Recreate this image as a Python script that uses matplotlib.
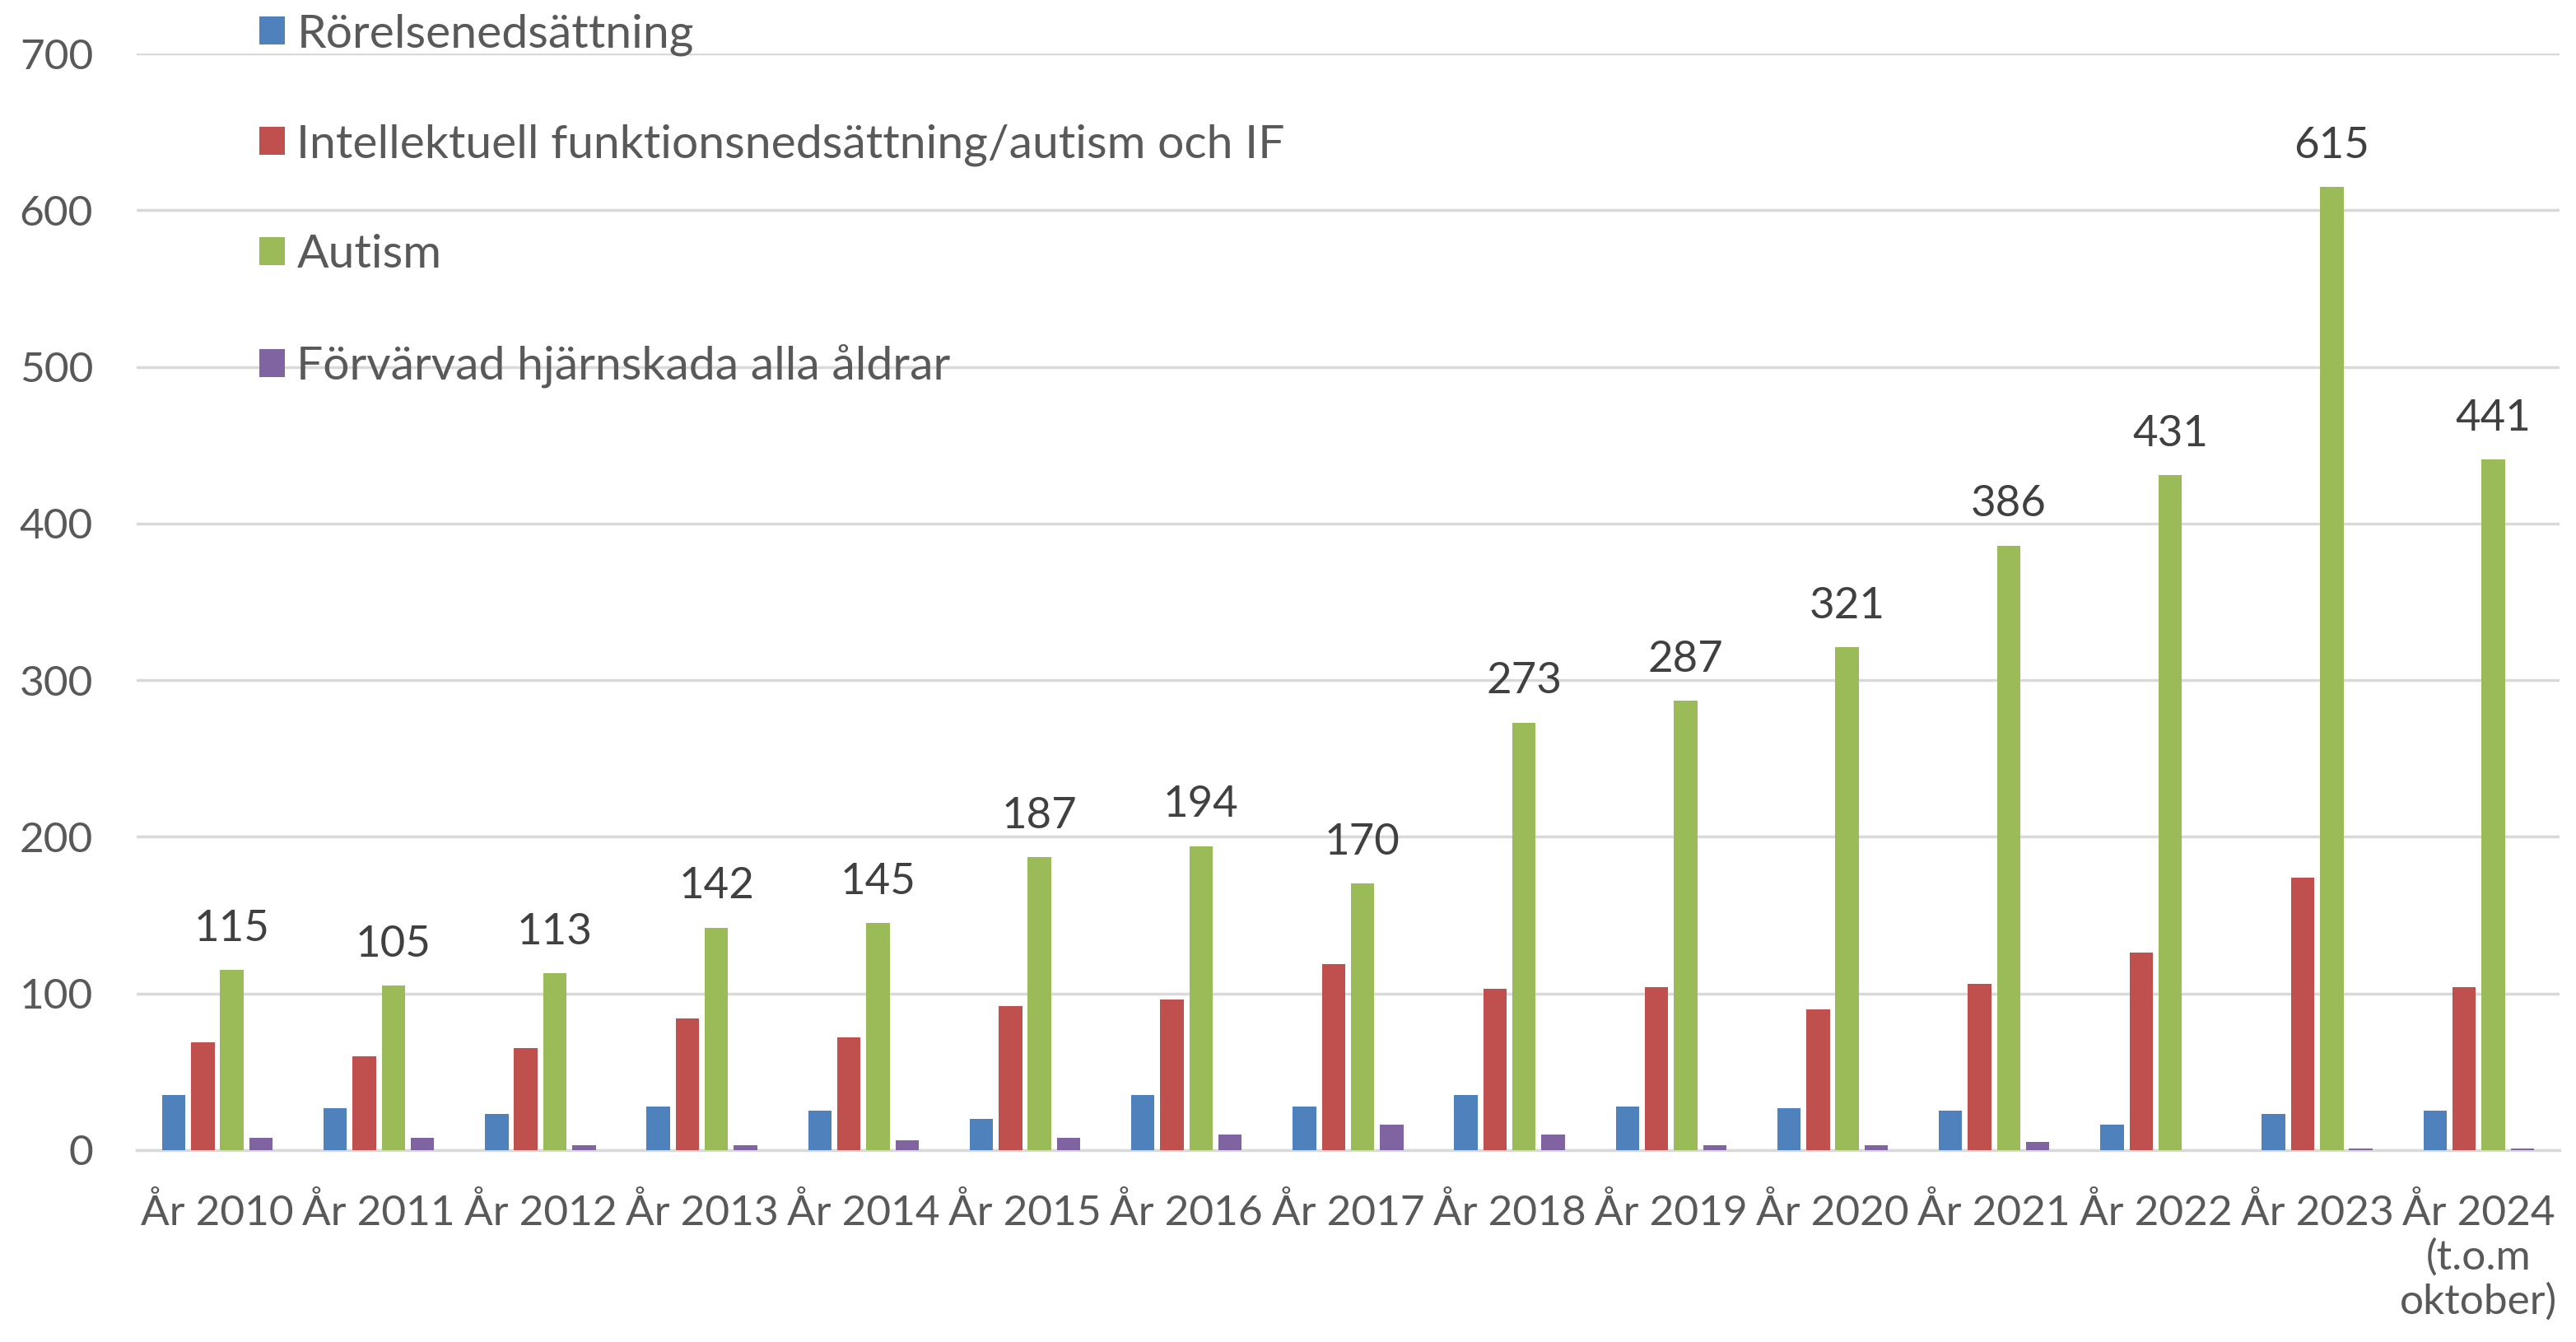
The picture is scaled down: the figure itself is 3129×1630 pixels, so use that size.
import numpy as np
import matplotlib
matplotlib.use("Agg")
import matplotlib.pyplot as plt
from matplotlib.patches import Patch

plt.rcParams['font.family'] = ['Lato', 'DejaVu Sans']

years = ["År 2010", "År 2011", "År 2012", "År 2013", "År 2014", "År 2015", "År 2016",
         "År 2017", "År 2018", "År 2019", "År 2020", "År 2021", "År 2022", "År 2023",
         "År 2024\n(t.o.m\noktober)"]
series_names = ["Rörelsenedsättning",
                "Intellektuell funktionsnedsättning/autism och IF",
                "Autism",
                "Förvärvad hjärnskada alla åldrar"]
rorelse = [35, 27, 23, 28, 25, 20, 35, 28, 35, 28, 27, 25, 16, 23, 25]
intellektuell = [69, 60, 65, 84, 72, 92, 96, 119, 103, 104, 90, 106, 126, 174, 104]
autism = [115, 105, 113, 142, 145, 187, 194, 170, 273, 287, 321, 386, 431, 615, 441]
hjarnskada = [8, 8, 3, 3, 6, 8, 10, 16, 10, 3, 3, 5, 0, 1, 1]

colors = ["#4F81BD", "#C0504D", "#9BBB59", "#8064A2"]
text_col = "#595959"
fs = 41
tick_fs = 37

fig = plt.figure(figsize=(31.29, 16.30), dpi=100)
ax = fig.add_axes([0.053, 0.143, 0.9406, 0.817])

x = np.arange(len(years))
w = 0.145
step = 0.18
all_series = [rorelse, intellektuell, autism, hjarnskada]
for i, vals in enumerate(all_series):
    bars = ax.bar(x + (i - 1.5) * step, vals, width=w, color=colors[i], zorder=3)
    if i == 2:
        # only the autism series carries value labels
        for b, v in zip(bars, vals):
            ax.annotate(str(v), (b.get_x() + b.get_width() / 2, v),
                        xytext=(0, 19), textcoords="offset points",
                        ha="center", va="bottom", fontsize=tick_fs + 1, color="#404040")

ax.set_xlim(-0.5, 14.5)
ax.set_ylim(0, 700)
ax.set_yticks(range(0, 701, 100))
ax.set_xticks(x)
ax.set_xticklabels(years, fontsize=tick_fs, color=text_col, linespacing=1.2)
ax.tick_params(axis="y", labelsize=tick_fs, labelcolor=text_col, length=0, pad=38)
ax.tick_params(axis="x", length=0, pad=38)
ax.grid(axis="y", color="#D9D9D9", linewidth=2.5, zorder=0)
for s in ["top", "right", "left"]:
    ax.spines[s].set_visible(False)
ax.spines["bottom"].set_color("#D9D9D9")
ax.spines["bottom"].set_linewidth(2.5)

handles = [Patch(facecolor=c) for c in colors]
fig.legend(handles, series_names, loc="upper left", bbox_to_anchor=(0.0915, 1.0075),
           frameon=False, fontsize=fs, labelcolor=text_col, borderpad=0,
           handlelength=0.55, handleheight=0.55, handletextpad=0.25, labelspacing=1.45)

fig.savefig("out.png", dpi=100, facecolor="white")
